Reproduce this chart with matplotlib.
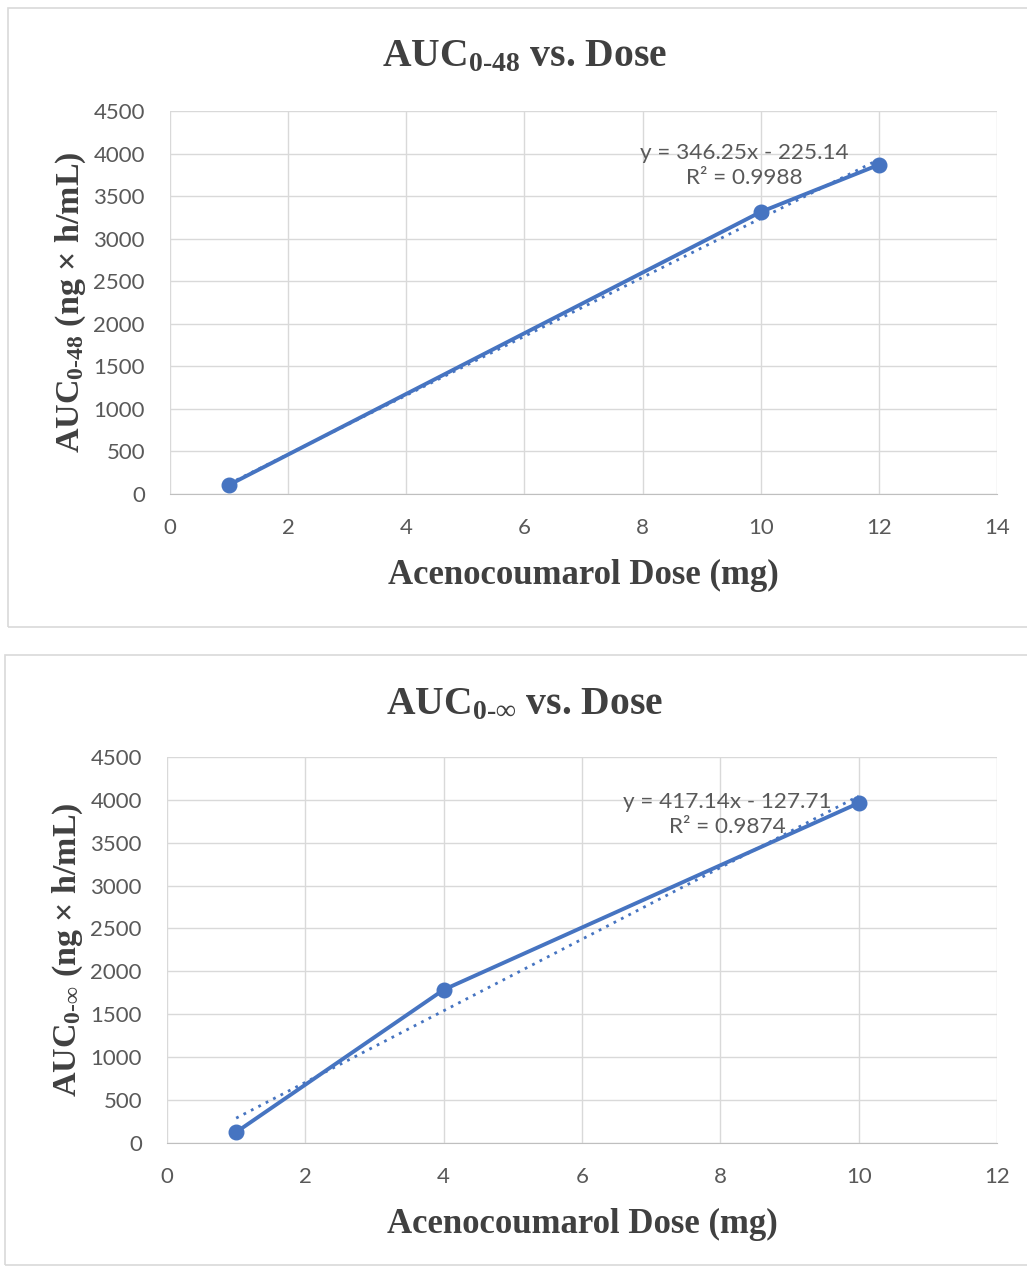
import numpy as np
import matplotlib
matplotlib.use('Agg')
from matplotlib import pyplot as plt
from matplotlib.patches import Rectangle

plt.rcParams['mathtext.fontset'] = 'custom'
plt.rcParams['mathtext.rm'] = 'Liberation Serif:bold'
plt.rcParams['mathtext.it'] = 'Liberation Serif:bold'
plt.rcParams['mathtext.bf'] = 'Liberation Serif:bold'

#  values
dose_48 = [1, 10, 12]
auc_48 = [107, 3314, 3868]
dose_inf = [1, 4, 10]
auc_inf = [126, 1786, 3962]

yticks = [0, 500, 1000, 1500, 2000, 2500, 3000, 3500, 4000, 4500]
xticks_48 = [0, 2, 4, 6, 8, 10, 12, 14]
xticks_inf = [0, 2, 4, 6, 8, 10, 12]

blue = '#4674C1'
grid = '#D9D9D9'
txt = '#595959'
dark = '#404040'
serif = 'Liberation Serif'
sans = 'Lato'

fig = plt.figure(figsize=(10.27, 12.67), dpi=100)

#  chart frames
fig.patches.append(Rectangle((0.0078, 0.5051), 1.0, 0.4886, transform=fig.transFigure,
                             fill=False, edgecolor=grid, linewidth=1.2))
fig.patches.append(Rectangle((0.0049, 0.0016), 1.0, 0.4814, transform=fig.transFigure,
                             fill=False, edgecolor=grid, linewidth=1.2))


def make_panel(rect, x, y, xticks, title, ylab, title_y, eq_xy, eq_text):
    ax = fig.add_axes(rect)
    ax.plot(x, y, color=blue, linewidth=2.8, marker='o', markersize=10.5, zorder=3)
    #  linear trendline like Excel
    k, b = np.polyfit(x, y, 1)
    xs = np.array([x[0], x[-1]])
    ax.plot(xs, k * xs + b, color=blue, linewidth=2.0, linestyle=(0, (1, 2)), zorder=2)
    ax.set_xlim(xticks[0], xticks[-1])
    ax.set_ylim(0, 4500)
    ax.set_xticks(xticks)
    ax.set_yticks(yticks)
    ax.grid(True, color=grid, linewidth=1.0)
    ax.set_axisbelow(True)
    for s in ['top', 'right', 'left']:
        ax.spines[s].set_visible(False)
    ax.spines['bottom'].set_color('#BFBFBF')
    ax.tick_params(length=0, labelsize=16, labelcolor=txt)
    ax.tick_params(axis='y', pad=18)
    ax.tick_params(axis='x', pad=17)
    for lab in ax.get_xticklabels() + ax.get_yticklabels():
        lab.set_fontfamily(sans)
    ax.text(0.5, -0.212, 'Acenocoumarol Dose (mg)', transform=ax.transAxes, ha='center',
            va='center', fontsize=25, fontweight='bold', family=serif, color=dark)
    ax.text(-0.12, 0.5, ylab, transform=ax.transAxes, rotation=90, ha='center',
            va='center', fontsize=24.5, fontweight='bold', family=serif, color=dark)
    ax.text(eq_xy[0], eq_xy[1], eq_text, ha='center', va='center', fontsize=16.2,
            family=sans, color=txt, linespacing=1.3)
    fig.text(0.511, title_y, title, ha='center', va='center', fontsize=28.5,
             fontweight='bold', family=serif, color=dark)
    return ax


make_panel([0.1655, 0.6101, 0.8053, 0.3023], dose_48, auc_48, xticks_48,
           r'AUC$_{\text{0-48}}$ vs. Dose', r'AUC$_{\text{0-48}}$ (ng × h/mL)', 0.955,
           (9.73, 3855), 'y = 346.25x - 225.14\nR² = 0.9988')

make_panel([0.1626, 0.0979, 0.8082, 0.3047], dose_inf, auc_inf, xticks_inf,
           r'AUC$_{\text{0-}\infty}$ vs. Dose', r'AUC$_{\text{0-}\infty}$ (ng × h/mL)', 0.444,
           (8.10, 3825), 'y = 417.14x - 127.71\nR² = 0.9874')

fig.savefig('out.png', dpi=100)
